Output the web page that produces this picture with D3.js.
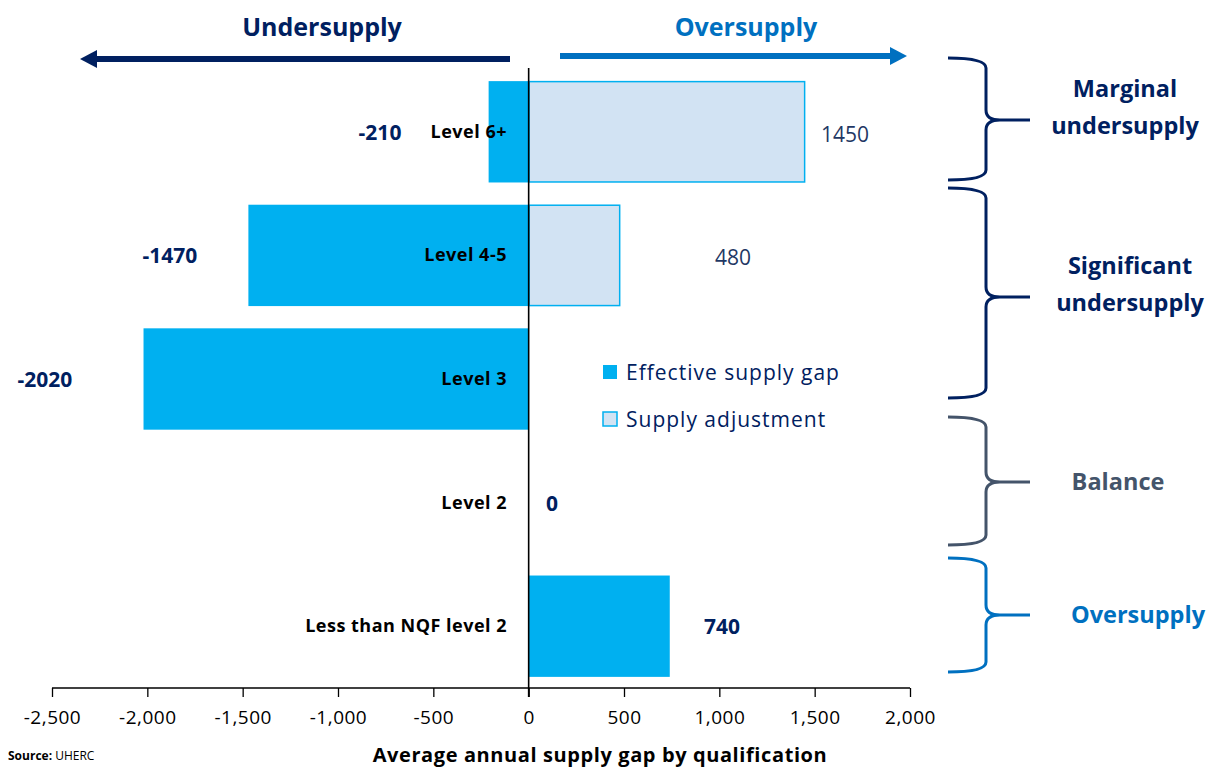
<!DOCTYPE html>
<html><head><meta charset="utf-8">
<script src="https://cdn.jsdelivr.net/npm/d3@7"></script>
<style>
body{margin:0;background:#fff;}
svg{display:block;font-family:"Open Sans",sans-serif;}
</style></head><body>
<svg id="c" width="1211" height="769"></svg>
<script>
// ---- data ----
const categories = ["Level 6+", "Level 4-5", "Level 3", "Level 2", "Less than NQF level 2"];
const effectiveGap = [-210, -1470, -2020, 0, 740];
const supplyAdjustment = [1450, 480, 0, 0, 0];
const xTicks = [-2500, -2000, -1500, -1000, -500, 0, 500, 1000, 1500, 2000];
const legendLabels = ["Effective supply gap", "Supply adjustment"];
const braceLabels = [["Marginal", "undersupply"], ["Significant", "undersupply"], ["Balance"], ["Oversupply"]];

// ---- layout (pixels) ----
const effLabelX = [380, 170, 45, 552, 722];
const adjLabelX = [845, 733];
const braces = [
  {top: 58, bottom: 180, tip: 120, color: "#002060", lx: 1125},
  {top: 188, bottom: 398, tip: 297, color: "#002060", lx: 1130},
  {top: 417, bottom: 545, tip: 482, color: "#44546A", lx: 1118},
  {top: 558, bottom: 672, tip: 615, color: "#0070C0", lx: 1138}
];

const NAVY = "#002060", BLUE = "#0070C0", CYAN = "#00B0F0", LIGHT = "#D2E3F3";
const svg = d3.select("#c");

const x = d3.scaleLinear().domain([-2500, 2000]).range([52, 910]);
const y = d3.scaleBand().domain(categories).range([70, 688]).paddingInner(0.18).paddingOuter(0.09);
const axisY = 688;

// bars: adjustment
svg.selectAll("rect.adj").data(categories.map((c, i) => ({c, v: supplyAdjustment[i]})).filter(d => d.v !== 0))
  .enter().append("rect")
  .attr("x", d => x(Math.min(0, d.v)) + 0.5)
  .attr("y", d => y(d.c) + 0.5)
  .attr("width", d => Math.abs(x(d.v) - x(0)) - 1)
  .attr("height", y.bandwidth() - 1)
  .attr("fill", LIGHT).attr("stroke", CYAN).attr("stroke-width", 1.5);

// bars: effective
svg.selectAll("rect.eff").data(categories.map((c, i) => ({c, v: effectiveGap[i]})))
  .enter().append("rect")
  .attr("x", d => x(Math.min(0, d.v)))
  .attr("y", d => y(d.c))
  .attr("width", d => Math.abs(x(d.v) - x(0)))
  .attr("height", y.bandwidth())
  .attr("fill", CYAN);

// zero line
svg.append("line").attr("x1", x(0)).attr("x2", x(0)).attr("y1", 68).attr("y2", axisY + 9)
  .attr("stroke", "#000").attr("stroke-width", 1.6);

// x axis
const fmt = d3.format(",");
const ax = svg.append("g").attr("transform", `translate(0,${axisY})`)
  .call(d3.axisBottom(x).tickValues(xTicks).tickSize(9).tickPadding(14).tickFormat(d => fmt(d).replace("\u2212", "-")));
ax.select(".domain").attr("stroke", "#000").attr("stroke-width", 1.3).attr("d", `M${x(-2500)},0H${x(2000)}`);
ax.selectAll(".tick line").attr("stroke", "#000").attr("stroke-width", 1.3);
ax.selectAll(".tick text").attr("font-size", 19).attr("fill", "#000")
  .attr("font-family", "'Open Sans',sans-serif").attr("letter-spacing", 0.5);

svg.append("text").attr("x", 600).attr("y", 762).attr("text-anchor", "middle")
  .attr("font-size", 20).attr("font-weight", "bold").attr("fill", "#000").attr("letter-spacing", 0.6)
  .text("Average annual supply gap by qualification");

// category labels
svg.selectAll("text.cat").data(categories).enter().append("text")
  .attr("x", 507).attr("y", d => y(d) + y.bandwidth() / 2 + 6)
  .attr("text-anchor", "end").attr("font-size", 18).attr("font-weight", "bold").attr("fill", "#000")
  .attr("letter-spacing", 0.5)
  .text(d => d);

// value labels
svg.selectAll("text.eff").data(effectiveGap).enter().append("text")
  .attr("x", (d, i) => effLabelX[i]).attr("y", (d, i) => y(categories[i]) + y.bandwidth() / 2 + 8)
  .attr("text-anchor", "middle").attr("font-size", 21).attr("font-weight", "bold").attr("fill", NAVY)
  .text(d => d);
svg.selectAll("text.adj").data(supplyAdjustment.filter(v => v !== 0)).enter().append("text")
  .attr("x", (d, i) => adjLabelX[i]).attr("y", (d, i) => y(categories[i]) + y.bandwidth() / 2 + 10)
  .attr("text-anchor", "middle").attr("font-size", 21).attr("fill", "#1F3864")
  .text(d => d);

// legend
const lg = svg.append("g");
legendLabels.forEach((t, i) => {
  const ly = 372 + i * 47;
  lg.append("rect").attr("x", 603).attr("y", ly - 7).attr("width", 14).attr("height", 14)
    .attr("fill", i === 0 ? CYAN : LIGHT).attr("stroke", i === 0 ? "none" : CYAN).attr("stroke-width", 1.5);
  lg.append("text").attr("x", 626).attr("y", ly + 8).attr("font-size", 21).attr("fill", NAVY)
    .attr("letter-spacing", 1).text(t);
});

// top arrows
function arrow(x1, x2, yy, col, label, lx) {
  const dir = Math.sign(x2 - x1);
  svg.append("line").attr("x1", x1).attr("x2", x2 - dir * 14).attr("y1", yy).attr("y2", yy)
    .attr("stroke", col).attr("stroke-width", 6);
  svg.append("path").attr("d", `M${x2},${yy}L${x2 - dir * 17},${yy - 9}L${x2 - dir * 17},${yy + 9}Z`).attr("fill", col);
  svg.append("text").attr("x", lx).attr("y", 36).attr("text-anchor", "middle")
    .attr("font-size", 25).attr("font-weight", "bold").attr("fill", col).text(label);
}
arrow(510, 80, 59, NAVY, "Undersupply", 322);
arrow(560, 907, 56, BLUE, "Oversupply", 746);

// braces
braces.forEach((b, i) => {
  const xl = 948, xv = 986, xt = 1030, r = 10;
  const p = `M${xl},${b.top} Q${xv},${b.top} ${xv},${b.top + r} L${xv},${b.tip - r} Q${xv},${b.tip} ${xv + 14},${b.tip} L${xt},${b.tip}` +
    ` M${xv + 14},${b.tip} Q${xv},${b.tip} ${xv},${b.tip + r} L${xv},${b.bottom - r} Q${xv},${b.bottom} ${xl},${b.bottom}`;
  svg.append("path").attr("d", p).attr("fill", "none").attr("stroke", b.color).attr("stroke-width", 3);
  const lines = braceLabels[i];
  const base = lines.length > 1 ? b.tip - 23 : b.tip + 8;
  lines.forEach((t, j) => {
    svg.append("text").attr("x", b.lx).attr("y", base + j * 37)
      .attr("text-anchor", "middle").attr("font-size", 23.5).attr("font-weight", "bold").attr("fill", b.color)
      .text(t);
  });
});

// source
svg.append("text").attr("x", 8).attr("y", 760).attr("font-size", 12).attr("fill", "#000")
  .html('<tspan font-weight="bold">Source:</tspan> UHERC');
</script>
</body></html>
